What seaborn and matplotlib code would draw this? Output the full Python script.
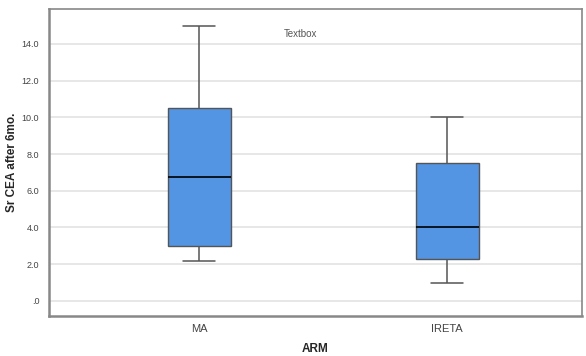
import matplotlib
matplotlib.use("Agg")
import matplotlib.pyplot as plt
import numpy as np
import pandas as pd
import seaborn as sns

# five-number summaries: min, Q1, median, Q3, max
arms = ["MA", "IRETA"]
ma_values = [2.2, 3.0, 6.75, 10.5, 15.0]
ireta_values = [1.0, 2.3, 4.0, 7.5, 10.0]
y_ticks = [0, 2, 4, 6, 8, 10, 12, 14]
y_tick_labels = [".0", "2.0", "4.0", "6.0", "8.0", "10.0", "12.0", "14.0"]

df = pd.DataFrame({
    "ARM": ["MA"] * len(ma_values) + ["IRETA"] * len(ireta_values),
    "Sr CEA after 6mo.": ma_values + ireta_values,
})

sns.set_style("white")
plt.rcParams["font.family"] = ["Liberation Sans", "DejaVu Sans"]

fig = plt.figure(figsize=(5.86, 3.56), dpi=100)
ax = fig.add_axes([49 / 586, 40 / 356, 533 / 586, 307 / 356])

for y in y_ticks:
    ax.axhline(y, color="#e3e3e3", linewidth=1.2, zorder=0)

sns.boxplot(
    data=df, x="ARM", y="Sr CEA after 6mo.", order=arms, ax=ax,
    whis=(0, 100), width=0.254, color="#5394e3", saturation=1,
    linecolor="#555555", linewidth=1.1,
    medianprops={"color": "black", "linewidth": 1.2},
    capprops={"color": "#555555", "linewidth": 1.1},
    whiskerprops={"color": "#555555", "linewidth": 1.1},
    boxprops={"edgecolor": "#555555", "linewidth": 1.0},
    zorder=2,
)

ax.set_xlim(-0.605, 1.544)
ax.set_ylim(-0.82, 15.9)
ax.set_yticks(y_ticks)
ax.set_yticklabels(y_tick_labels)
ax.tick_params(axis="both", length=0, labelsize=7, colors="#444444")
ax.tick_params(axis="x", pad=6, labelsize=8)
ax.tick_params(axis="y", pad=7, labelsize=6.5)

ax.set_xlabel("ARM", fontsize=8.5, fontweight="bold", labelpad=6)
ax.set_ylabel("Sr CEA after 6mo.", fontsize=8.5, fontweight="bold")
ax.yaxis.set_label_coords(-0.07, 0.5)
ax.yaxis.label.set_va("center")

for side, spine in ax.spines.items():
    spine.set_color("#888888")
    spine.set_linewidth(1.2)
ax.spines["left"].set_linewidth(1.8)
ax.spines["bottom"].set_linewidth(1.8)

ax.text(0.44, 0.918, "Textbox", transform=ax.transAxes, fontsize=7,
        color="#555555", ha="left", va="center")

fig.savefig("out.png", dpi=100)
